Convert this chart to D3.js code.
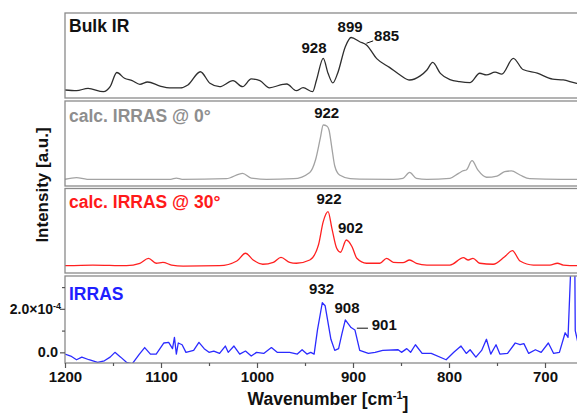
<!DOCTYPE html>
<html>
<head>
<meta charset="utf-8">
<script src="https://cdn.jsdelivr.net/npm/d3@7/dist/d3.min.js"></script>
<style>
  html, body { margin: 0; padding: 0; background: #fff; }
  svg text { font-family: "Liberation Sans", Arial, sans-serif; font-weight: bold; }
</style>
</head>
<body>
<svg id="chart" width="577" height="413"></svg>
<script>
// Spectra: wavenumber (cm-1) and relative intensity per panel
const bulkWn  = [1200, 1188, 1176, 1160, 1153, 1146, 1138, 1130, 1122, 1114, 1101, 1091, 1080, 1072, 1059, 1049, 1039, 1025, 1015, 1006, 997, 987, 973, 969, 959, 952, 942, 938, 931, 926, 921, 916, 908, 902, 893, 886, 875, 862, 851, 841, 830, 823, 817, 809, 799, 789, 778, 768, 761, 752, 745, 733, 723, 708, 692, 681, 667, 660];
const bulkInt = [0.094, 0.086, 0.114, 0.074, 0.133, 0.300, 0.232, 0.204, 0.161, 0.188, 0.141, 0.118, 0.118, 0.153, 0.309, 0.173, 0.133, 0.204, 0.133, 0.224, 0.204, 0.120, 0.161, 0.165, 0.086, 0.121, 0.074, 0.212, 0.467, 0.291, 0.178, 0.291, 0.604, 0.712, 0.662, 0.624, 0.460, 0.360, 0.271, 0.212, 0.260, 0.329, 0.418, 0.290, 0.215, 0.192, 0.182, 0.291, 0.271, 0.304, 0.282, 0.467, 0.335, 0.292, 0.222, 0.212, 0.173, 0.165];

const calc0Wn  = [1200, 1188, 1177, 1136, 1090, 1084, 1078, 1032, 1015, 1006, 990, 962, 945, 939, 934, 931, 927, 925, 922, 919, 914, 903, 893, 858, 848, 841, 834, 823, 799, 790, 785, 782, 776, 770, 761, 750, 742, 735, 726, 716, 684, 667, 660];
const calc0Int = [0.068, 0.087, 0.068, 0.068, 0.068, 0.083, 0.068, 0.075, 0.139, 0.083, 0.068, 0.075, 0.150, 0.300, 0.560, 0.714, 0.700, 0.655, 0.440, 0.226, 0.119, 0.077, 0.071, 0.068, 0.080, 0.151, 0.080, 0.068, 0.080, 0.139, 0.170, 0.179, 0.289, 0.179, 0.092, 0.107, 0.158, 0.167, 0.119, 0.075, 0.068, 0.068, 0.068];

const calc30Wn  = [1200, 1171, 1136, 1122, 1113, 1105, 1098, 1089, 1077, 1039, 1021, 1012, 1004, 994, 983, 975, 966, 959, 945, 936, 931, 926, 922, 917, 913, 907, 901, 896, 886, 872, 865, 858, 848, 841, 834, 823, 799, 785, 780, 775, 768, 754, 742, 734, 726, 712, 695, 687, 681, 667, 660];
const calc30Int = [0.075, 0.083, 0.075, 0.104, 0.163, 0.104, 0.115, 0.083, 0.071, 0.075, 0.131, 0.223, 0.143, 0.092, 0.115, 0.175, 0.115, 0.104, 0.143, 0.321, 0.599, 0.718, 0.520, 0.282, 0.235, 0.381, 0.301, 0.163, 0.104, 0.104, 0.163, 0.115, 0.111, 0.143, 0.104, 0.083, 0.083, 0.170, 0.143, 0.163, 0.104, 0.092, 0.182, 0.254, 0.131, 0.083, 0.083, 0.104, 0.083, 0.075, 0.075];

// measured IRRAS, intensity in units of 1e-4
const irrasWn  = [1200, 1194, 1188, 1182.5, 1175, 1166, 1159, 1153, 1148, 1142, 1136, 1130, 1122.5, 1117, 1111, 1105, 1097, 1092, 1088, 1086, 1084, 1082, 1078, 1074, 1066, 1060.5, 1055, 1050, 1045, 1039, 1033, 1030, 1024, 1018, 1012, 1006, 1000.5, 993, 985, 979, 966, 958, 953, 948, 944, 940.5, 937, 932, 929, 923, 919, 915, 911.5, 908, 902, 898, 893, 884, 877, 869, 853, 849.5, 844, 840, 835, 828, 818.5, 803, 795, 787.5, 782, 778, 772, 766, 761, 756.5, 751, 747, 739, 731, 726, 722, 717, 710, 704, 696.5, 691, 685, 679, 676, 673.5, 672, 669.5, 668.5, 665, 660];
const irrasInt = [-0.08, -0.17, -0.34, -0.22, -0.34, -0.46, -0.39, -0.22, 0, -0.22, -0.46, -0.53, -0.08, 0.22, -0.08, -0.08, 0.43, 0.46, 0.17, 0.69, -0.08, 0.43, 0.35, 0, 0.09, 0.46, 0.17, 0, 0.06, -0.05, 0.29, 0, 0.29, -0.08, 0.06, -0.17, 0, -0.05, 0.22, 0, 0, -0.08, 0.12, -0.08, 0, -0.08, 1.03, 2.28, 2.14, 0.6, 0.09, 0.17, 0.86, 1.49, 1.14, 1.03, 0.09, -0.05, 0, 0.09, 0.12, 0, 0.17, 0, 0.35, -0.05, -0.05, -0.34, 0, 0.29, -0.05, 0.12, -0.22, 0.09, 0.6, -0.08, 0.35, -0.08, -0.05, 0.43, 0.35, 0.4, -0.05, 0.12, 0, 0.43, -0.05, 0, 0.9, 0.69, 3.5, 8, 8, 1, 0.3, 0.2];

// peak annotations: label, wavenumber of label centre, intensity of baseline
const bulkPeaks   = [["928", 940.6, 0.533], ["899", 903, 0.78]];
const calc0Peaks  = [["922", 927.4, 0.794]];
const calc30Peaks = [["922", 925, 0.81], ["902", 902.6, 0.464]];
const irrasPeaks  = [["932", 932.7, 2.69], ["908", 906.2, 1.83]];
// shoulder labels with a short leader line: label, text start wn, baseline, leader from wn/int to wn/int
const bulkShoulder  = [["885", 878, 0.674, 886, 0.644, 879, 0.672]];
const irrasShoulder = [["901", 880.5, 1.03, 896, 1.11, 884.4, 1.11]];

const xTicks = [1200, 1100, 1000, 900, 800, 700];
const xMinor = [1150, 1050, 950, 850, 750];

const svg = d3.select("#chart");
const defs = svg.append("defs");

const x = d3.scaleLinear().domain([1200, 660]).range([65, 583.4]);

const panels = [
  { name: "Bulk IR", wn: bulkWn, val: bulkInt, peaks: bulkPeaks, shoulder: bulkShoulder,
    color: "#2e2e2e", labelColor: "#111", top: 13, bottom: 98, domain: [0, 1], range: [98, 13], labelY: 32, curve: d3.curveMonotoneX },
  { name: "calc. IRRAS @ 0°", wn: calc0Wn, val: calc0Int, peaks: calc0Peaks, shoulder: [],
    color: "#a3a3a3", labelColor: "#8e8e8e", top: 101, bottom: 186, domain: [0, 1], range: [185, 101], labelY: 122, curve: d3.curveMonotoneX },
  { name: "calc. IRRAS @ 30°", wn: calc30Wn, val: calc30Int, peaks: calc30Peaks, shoulder: [],
    color: "#ff2020", labelColor: "#ff1a1a", top: 188.5, bottom: 273, domain: [0, 1], range: [272, 188], labelY: 208, curve: d3.curveMonotoneX },
  { name: "IRRAS", wn: irrasWn, val: irrasInt, peaks: irrasPeaks, shoulder: irrasShoulder,
    color: "#2b2bff", labelColor: "#1f1fff", top: 276, bottom: 363, domain: [-0.49, 3.51], range: [363, 276], labelY: 300, curve: d3.curveLinear }
];

let yIrras;

panels.forEach((p, i) => {
  const y = d3.scaleLinear().domain(p.domain).range(p.range);
  if (i === 3) yIrras = y;

  defs.append("clipPath").attr("id", "clip" + i)
    .append("rect")
    .attr("x", 65).attr("y", p.top)
    .attr("width", 530).attr("height", p.bottom - p.top);

  const line = d3.line()
    .x(d => x(d[0]))
    .y(d => y(d[1]))
    .curve(p.curve);

  svg.append("path")
    .datum(d3.zip(p.wn, p.val))
    .attr("clip-path", `url(#clip${i})`)
    .attr("fill", "none")
    .attr("stroke", p.color)
    .attr("stroke-width", 1.3)
    .attr("stroke-linejoin", "round")
    .attr("d", line);

  // panel frame
  svg.append("rect")
    .attr("x", 65).attr("y", p.top)
    .attr("width", 540).attr("height", p.bottom - p.top)
    .attr("fill", "none")
    .attr("stroke", "#8a8a8a")
    .attr("stroke-width", 1.3);

  svg.append("text")
    .attr("x", 69).attr("y", p.labelY)
    .attr("fill", p.labelColor)
    .attr("font-size", "17.5px")
    .text(p.name);

  p.peaks.forEach(pk => {
    svg.append("text")
      .attr("x", x(pk[1])).attr("y", y(pk[2]))
      .attr("text-anchor", "middle")
      .attr("font-size", "15px")
      .attr("fill", "#111")
      .text(pk[0]);
  });

  p.shoulder.forEach(s => {
    svg.append("line")
      .attr("x1", x(s[3])).attr("y1", y(s[4]))
      .attr("x2", x(s[5])).attr("y2", y(s[6]))
      .attr("stroke", "#111").attr("stroke-width", 1);
    svg.append("text")
      .attr("x", x(s[1])).attr("y", y(s[2]))
      .attr("font-size", "15px")
      .attr("fill", "#111")
      .text(s[0]);
  });
});

// bottom axis
const xAxisG = svg.append("g")
  .attr("transform", "translate(0,363)")
  .call(d3.axisBottom(x).tickValues(xTicks).tickSize(5).tickSizeOuter(0).tickPadding(3).tickFormat(d3.format("d")));
xAxisG.select(".domain").remove();
xAxisG.selectAll(".tick line").attr("stroke", "#555").attr("stroke-width", 1.2);
xAxisG.selectAll(".tick text").attr("font-size", "15px").attr("fill", "#111")
  .style("font-family", "'Liberation Sans', Arial, sans-serif").style("font-weight", "bold");

const xMinorG = svg.append("g")
  .attr("transform", "translate(0,363)")
  .call(d3.axisBottom(x).tickValues(xMinor).tickSize(3).tickSizeOuter(0).tickFormat(""));
xMinorG.select(".domain").remove();
xMinorG.selectAll(".tick line").attr("stroke", "#555").attr("stroke-width", 1.2);

// left axis of IRRAS panel
const yAxisG = svg.append("g")
  .attr("transform", "translate(65,0)")
  .call(d3.axisLeft(yIrras).tickValues([0, 2]).tickSize(5).tickSizeOuter(0).tickFormat(""));
yAxisG.select(".domain").remove();
yAxisG.selectAll(".tick line").attr("stroke", "#555").attr("stroke-width", 1.2);

const yMinorG = svg.append("g")
  .attr("transform", "translate(65,0)")
  .call(d3.axisLeft(yIrras).tickValues([1, 3]).tickSize(3).tickSizeOuter(0).tickFormat(""));
yMinorG.select(".domain").remove();
yMinorG.selectAll(".tick line").attr("stroke", "#555").attr("stroke-width", 1.2);

svg.append("text")
  .attr("x", 58).attr("y", yIrras(0) + 5)
  .attr("text-anchor", "end")
  .attr("font-size", "14.5px").attr("fill", "#111")
  .text("0.0");

const lab2 = svg.append("text")
  .attr("x", 61).attr("y", yIrras(2) + 5)
  .attr("text-anchor", "end")
  .attr("font-size", "14px").attr("fill", "#111");
lab2.append("tspan").text("2.0×10");
lab2.append("tspan").attr("dy", "-0.5em").attr("font-size", "9px").text("-4");

// axis titles
const xt = svg.append("text")
  .attr("x", 328).attr("y", 405)
  .attr("text-anchor", "middle")
  .attr("font-size", "17.5px").attr("fill", "#111");
xt.append("tspan").text("Wavenumber [cm");
xt.append("tspan").attr("dy", "-0.55em").attr("font-size", "11px").text("-1");
xt.append("tspan").attr("dy", "0.55em").text("]");

svg.append("text")
  .attr("transform", "translate(48,185) rotate(-90)")
  .attr("text-anchor", "middle")
  .attr("font-size", "17px").attr("fill", "#111")
  .text("Intensity [a.u.]");
</script>
</body>
</html>
